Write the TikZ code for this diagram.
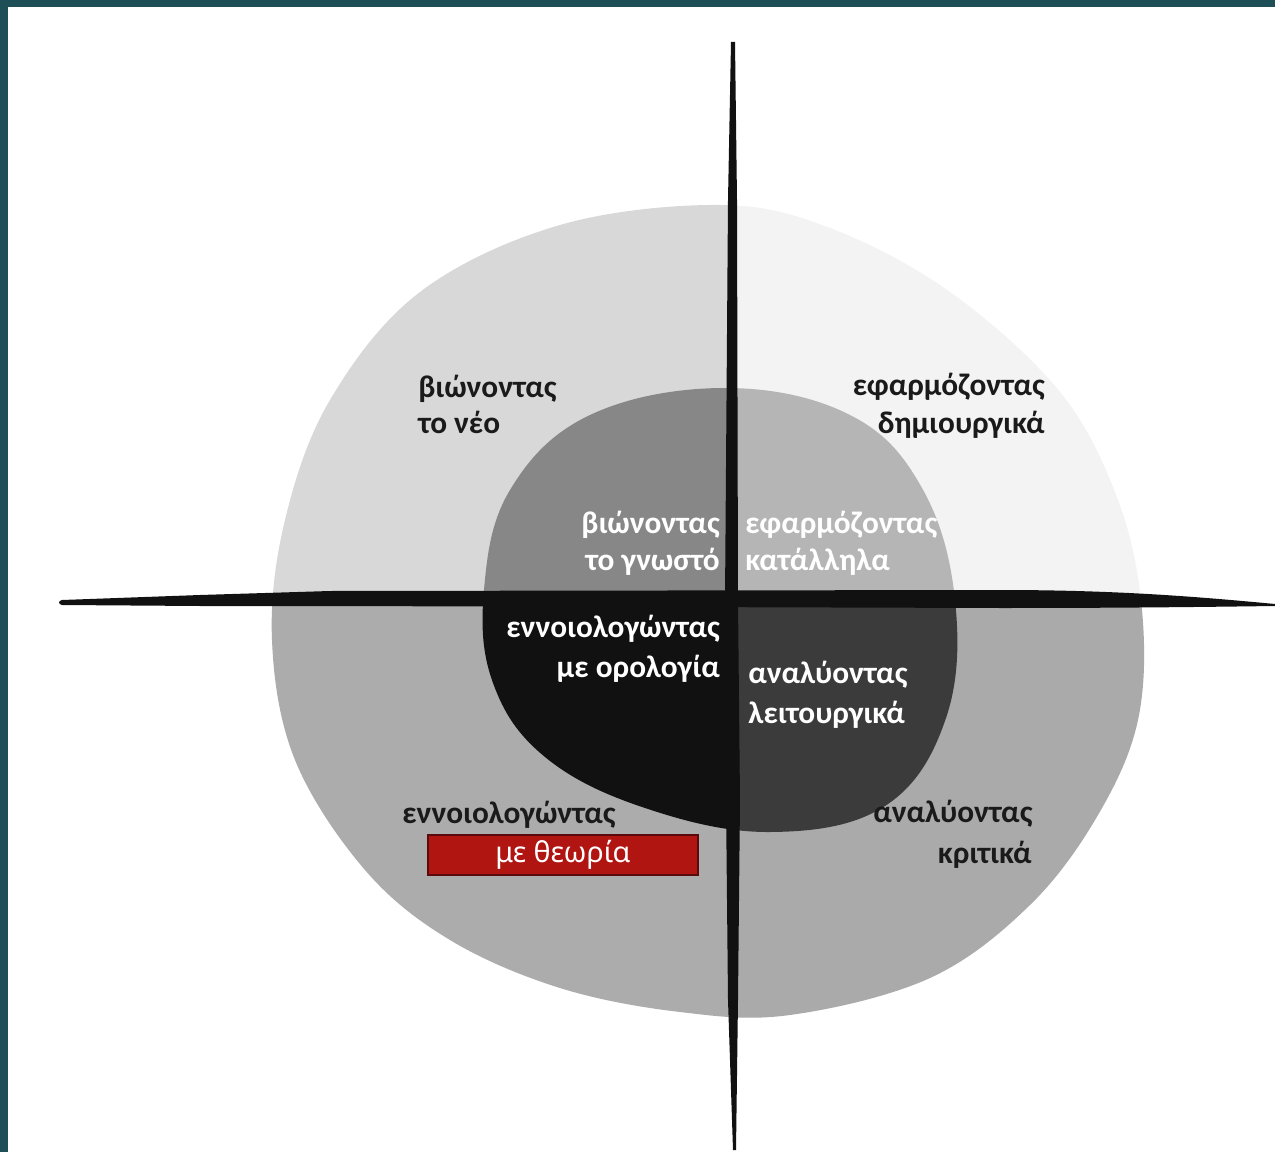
\documentclass[tikz,border=0pt]{standalone}
\usepackage{fontspec}
\setmainfont{Carlito}
\newfontfamily\boxfont{Noto Sans}
\definecolor{frame}{HTML}{1E4F57}
\definecolor{otl}{HTML}{D8D8D8}
\definecolor{otr}{HTML}{F3F3F3}
\definecolor{obl}{HTML}{ACACAC}
\definecolor{obr}{HTML}{AAAAAA}
\definecolor{itl}{HTML}{878787}
\definecolor{itr}{HTML}{B5B5B5}
\definecolor{ibl}{HTML}{111111}
\definecolor{ibr}{HTML}{3B3B3B}
\definecolor{ink}{HTML}{1A1A1A}
\definecolor{boxred}{HTML}{B01512}
\definecolor{boxline}{HTML}{5A0A0A}
\newcommand\outerfill[1]{\fill[#1] plot[smooth cycle, tension=0.6] coordinates {(720,205) (830,228) (950,292) (1060,392) (1118,500) (1142,610) (1138,720) (1098,815) (1030,905) (930,978) (790,1015) (680,1012) (560,988) (450,940) (365,870) (295,760) (272,640) (285,520) (330,400) (420,292) (560,225)};}
\newcommand\innerfill[1]{\fill[#1] plot[smooth cycle, tension=0.65] coordinates {(725,388) (850,415) (922,488) (955,600) (946,718) (885,806) (770,832) (645,808) (545,757) (493,683) (484,590) (510,490) (590,415)};}
\tikzset{
  lbl/.style={font=\fontsize{23.5pt}{28pt}\selectfont\bfseries, inner sep=0pt, text=ink},
  wlbl/.style={lbl, text=white},
  boxstyle/.style={fill=boxred, draw=boxline, line width=1.6pt, minimum width=202.5pt, minimum height=30pt, inner sep=0pt, text=white, font=\boxfont\fontsize{21.5pt}{25pt}\selectfont}
}
\begin{document}
\begin{tikzpicture}[x=0.75pt,y=-0.75pt]
\useasboundingbox (0,0) rectangle (1275,1152);
\fill[white] (0,0) rectangle (1275,1152);
\fill[frame] (0,0) rectangle (1275,7);
\fill[frame] (0,0) rectangle (8,1152);
% outer blob quadrants
\begin{scope}\clip (0,0) rectangle (733,599); \outerfill{otl} \end{scope}
\begin{scope}\clip (733,0) rectangle (1275,599); \outerfill{otr} \end{scope}
\begin{scope}\clip (0,599) rectangle (733,1152); \outerfill{obl} \end{scope}
\begin{scope}\clip (733,599) rectangle (1275,1152); \outerfill{obr} \end{scope}
% inner blob quadrants
\begin{scope}\clip (0,0) rectangle (733,599); \innerfill{itl} \end{scope}
\begin{scope}\clip (733,0) rectangle (1275,599); \innerfill{itr} \end{scope}
\begin{scope}\clip (0,599) rectangle (733,1152); \innerfill{ibl} \end{scope}
\begin{scope}\clip (733,599) rectangle (1275,1152); \innerfill{ibr} \end{scope}
% cross strokes
\fill[ibl] (62,600) .. controls (58,601) and (58,604) .. (62,605) -- (200,606) -- (330,606) -- (1000,608) .. controls (1120,608) and (1200,607) .. (1275,606) -- (1275,604) .. controls (1200,597) and (1120,590) .. (1000,590) -- (330,591) -- (200,595) -- cycle;
\fill[ibl] (731,42) -- (735,42) -- (737,200) -- (738,600) -- (740,800) -- (738,1000) -- (736,1150) -- (733,1150) -- (728,1000) -- (726,800) -- (725,600) -- (728,200) -- cycle;
% outer labels
\node[lbl, anchor=base west] (tl1) at (418,397) {βιώνοντας};
\node[lbl, anchor=base west] (tl2) at (418,433) {το νέο};
\node[lbl, anchor=base east] (tr1) at (1045,395) {εφαρμόζοντας};
\node[lbl, anchor=base east] (tr2) at (1045,433) {δημιουργικά};
\node[lbl, anchor=base west] (bl1) at (402,823) {εννοιολογώντας};
\node[boxstyle] (box) at (563,855) {με θεωρία};
\node[lbl, anchor=base west] (br1) at (873,822) {αναλύοντας};
\node[lbl, anchor=base east] (br2) at (1032,863) {κριτικά};
% inner labels
\node[wlbl, anchor=base east] (itl1) at (720,533) {βιώνοντας};
\node[wlbl, anchor=base east] (itl2) at (720,570) {το γνωστό};
\node[wlbl, anchor=base west] (itr1) at (745,533) {εφαρμόζοντας};
\node[wlbl, anchor=base west] (itr2) at (745,570) {κατάλληλα};
\node[wlbl, anchor=base east] (ibl1) at (720,637) {εννοιολογώντας};
\node[wlbl, anchor=base east] (ibl2) at (720,677) {με ορολογία};
\node[wlbl, anchor=base west] (ibr1) at (748,683) {αναλύοντας};
\node[wlbl, anchor=base west] (ibr2) at (748,723) {λειτουργικά};
\end{tikzpicture}
\end{document}
